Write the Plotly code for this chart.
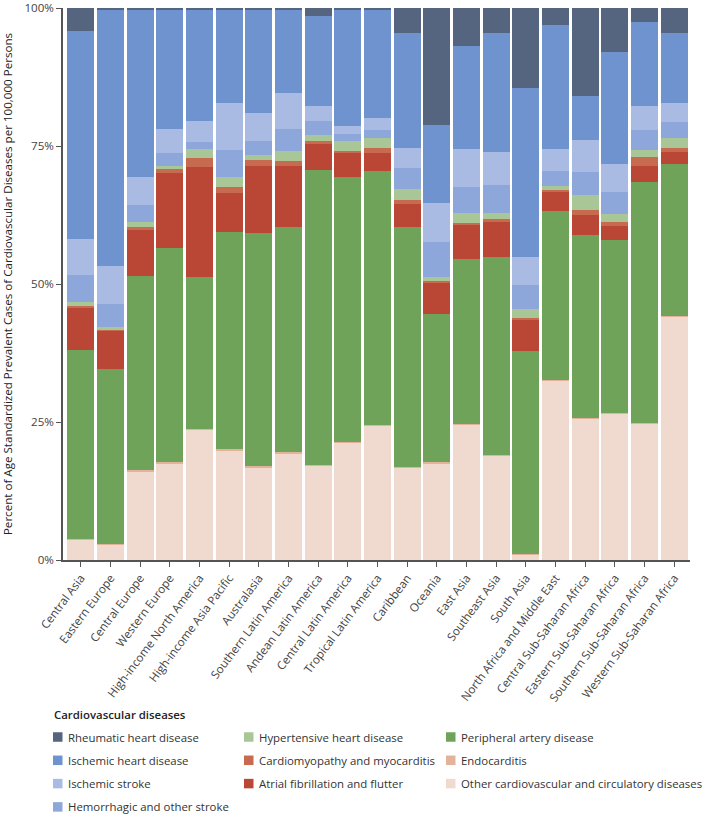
import plotly.graph_objects as go

regions = ["Central Asia", "Eastern Europe", "Central Europe", "Western Europe",
           "High-income North America", "High-income Asia Pacific", "Australasia",
           "Southern Latin America", "Andean Latin America", "Central Latin America",
           "Tropical Latin America", "Caribbean", "Oceania", "East Asia", "Southeast Asia",
           "South Asia", "North Africa and Middle East", "Central Sub-Saharan Africa",
           "Eastern Sub-Saharan Africa", "Southern Sub-Saharan Africa",
           "Western Sub-Saharan Africa"]

# percent shares per region
other_cvd      = [3.7, 2.8, 16.1, 17.5, 23.6, 19.9, 16.9, 19.4, 17.1, 21.3, 24.4, 16.8, 17.5, 24.6, 19.0, 1.0, 32.6, 25.6, 26.7, 24.8, 44.1]
endocarditis   = [0.1, 0.1, 0.2, 0.2, 0.1, 0.2, 0.1, 0.2, 0.1, 0.2, 0.1, 0.1, 0.2, 0.1, 0.1, 0.1, 0.1, 0.1, 0.1, 0.1, 0.1]
peripheral     = [34.4, 31.9, 35.3, 39.0, 27.7, 39.5, 42.5, 40.8, 53.5, 48.0, 46.1, 43.5, 26.8, 29.8, 35.8, 36.8, 30.6, 33.3, 31.4, 43.8, 27.6]
atrial_fib     = [7.6, 6.8, 8.3, 13.6, 19.9, 7.2, 12.2, 11.1, 4.7, 4.3, 3.3, 4.1, 5.6, 6.4, 6.3, 5.8, 3.3, 3.5, 2.5, 2.9, 2.2]
cardiomyopathy = [0.3, 0.4, 0.6, 0.7, 1.6, 1.1, 1.1, 0.9, 0.5, 0.5, 1.0, 0.7, 0.5, 0.3, 0.5, 0.2, 0.5, 1.0, 0.7, 1.5, 0.8]
hypertensive   = [0.7, 0.3, 0.85, 0.5, 1.6, 1.8, 0.85, 1.7, 1.1, 1.7, 1.7, 2.1, 0.7, 1.8, 1.2, 1.7, 0.7, 2.6, 1.5, 1.4, 1.8]
hemorrhagic    = [4.9, 4.3, 3.2, 2.3, 1.3, 4.9, 2.5, 4.1, 2.6, 1.3, 1.6, 3.7, 6.4, 4.6, 5.0, 4.3, 2.7, 4.3, 4.0, 3.5, 2.8]
isch_stroke    = [6.6, 6.9, 5.0, 4.5, 3.9, 8.5, 5.1, 6.5, 2.7, 1.5, 2.1, 3.7, 6.9, 7.0, 6.0, 5.1, 4.0, 5.7, 5.1, 4.5, 3.4]
isch_heart     = [37.8, 46.7, 30.4, 21.7, 20.1, 17.1, 18.9, 15.0, 16.2, 21.1, 19.8, 20.8, 14.2, 18.7, 21.5, 30.8, 22.5, 8.0, 20.3, 15.1, 12.8]
rheumatic      = [4.2, 0.2, 0.3, 0.2, 0.3, 0.2, 0.2, 0.4, 1.5, 0.3, 0.2, 4.6, 21.2, 6.8, 4.6, 14.5, 3.0, 16.0, 8.0, 2.6, 4.5]

y_ticks = [0, 25, 50, 75, 100]
y_tick_labels = ["0%", "25%", "50%", "75%", "100%"]

# stacked bottom -> top
series = [
    ("Other cardiovascular and circulatory diseases", other_cvd, "#F0DAD0"),
    ("Endocarditis", endocarditis, "#E3B29B"),
    ("Peripheral artery disease", peripheral, "#6FA35A"),
    ("Atrial fibrillation and flutter", atrial_fib, "#BA4735"),
    ("Cardiomyopathy and myocarditis", cardiomyopathy, "#C66A50"),
    ("Hypertensive heart disease", hypertensive, "#A9C796"),
    ("Hemorrhagic and other stroke", hemorrhagic, "#8DA7DA"),
    ("Ischemic stroke", isch_stroke, "#AABBE3"),
    ("Ischemic heart disease", isch_heart, "#6F93CF"),
    ("Rheumatic heart disease", rheumatic, "#56657F"),
]
colors = {n: c for n, _, c in series}

# legend layout (columns, top to bottom)
legend_columns = [
    ["Rheumatic heart disease", "Ischemic heart disease", "Ischemic stroke",
     "Hemorrhagic and other stroke"],
    ["Hypertensive heart disease", "Cardiomyopathy and myocarditis",
     "Atrial fibrillation and flutter"],
    ["Peripheral artery disease", "Endocarditis",
     "Other cardiovascular and circulatory diseases"],
]

FONT = "Open Sans, Lato, Noto Sans, sans-serif"
FS = 11.6
LFS = 11.4
W, H = 705, 814
ML, MR, MT, MB = 63, 15, 8, 254
PW, PH = W - ML - MR, H - MT - MB


def px_x(px):
    return (px - ML) / PW


def px_y(py):
    return (H - MB - py) / PH


fig = go.Figure()
for name, vals, color in series:
    fig.add_trace(go.Bar(
        x=regions, y=vals, name=name, showlegend=False,
        marker=dict(color=color, line=dict(width=0)),
        hovertemplate="%{x}<br>" + name + ": %{y:.1f}%<extra></extra>",
    ))

shapes = []
annotations = []
col_x = [53, 244, 446]
row_y = [737, 760.3, 783.6, 806.9]
for ci, col in enumerate(legend_columns):
    for ri, name in enumerate(col):
        x0, yc = col_x[ci], row_y[ri]
        shapes.append(dict(type="rect", xref="paper", yref="paper",
                           x0=px_x(x0), x1=px_x(x0 + 9.5),
                           y0=px_y(yc + 4.75), y1=px_y(yc - 4.75),
                           fillcolor=colors[name], line=dict(width=0)))
        annotations.append(dict(xref="paper", yref="paper", x=px_x(x0 + 12.5), y=px_y(yc),
                                xanchor="left", yanchor="middle", showarrow=False,
                                text=name, font=dict(size=LFS, color="#333333")))
annotations.append(dict(xref="paper", yref="paper", x=px_x(52), y=px_y(714),
                        xanchor="left", yanchor="middle", showarrow=False,
                        text="Cardiovascular diseases",
                        font=dict(size=LFS, color="#222222", weight=600)))

fig.update_layout(
    barmode="stack",
    barnorm="percent",
    bargap=0.09,
    width=W, height=H,
    margin=dict(l=ML, r=MR, t=MT, b=MB, autoexpand=False),
    plot_bgcolor="white", paper_bgcolor="white",
    font=dict(family=FONT, size=FS, color="#444444"),
    showlegend=False,
    shapes=shapes,
    annotations=annotations,
    xaxis=dict(
        range=[-0.6, 20.53], tickangle=-53, ticks="outside", ticklen=5,
        tickcolor="#555555", showline=True, linecolor="#555555", linewidth=1.5,
        showgrid=False, tickfont=dict(size=FS), automargin=False,
        ticklabeloverflow="allow",
    ),
    yaxis=dict(
        range=[0, 100], tickvals=y_ticks, ticktext=y_tick_labels,
        ticks="outside", ticklen=5, tickcolor="#555555",
        showline=True, linecolor="#555555", linewidth=1.5, showgrid=False,
        title=dict(text="Percent of Age Standardized Prevalent Cases of Cardiovascular Diseases per 100,000 Persons",
                   font=dict(size=FS, color="#222222")),
        tickfont=dict(size=FS), automargin=False, ticklabeloverflow="allow",
    ),
)

fig.write_html("out.html", config={"displayModeBar": False},
               post_script="document.body.style.margin='0';document.body.style.overflow='hidden';")
